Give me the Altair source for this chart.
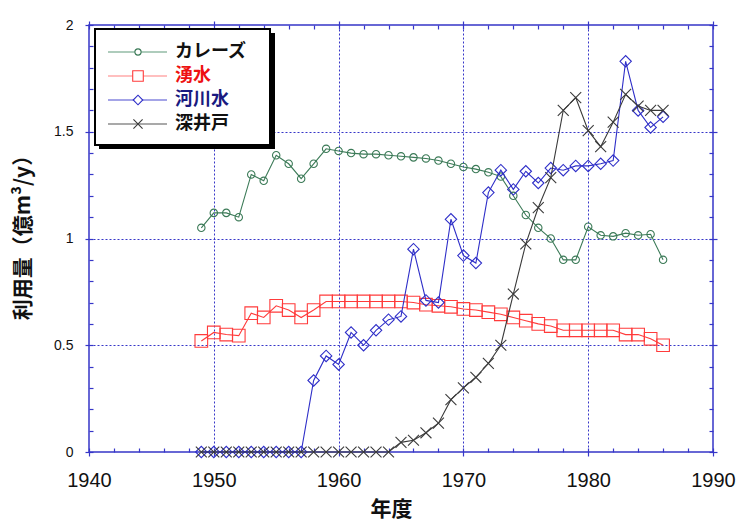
import altair as alt
import pandas as pd

# ---------------- data ----------------
years = list(range(1949, 1987))
karez = [1.05, 1.12, 1.12, 1.10, 1.30, 1.27, 1.39, 1.35, 1.28, 1.35,
         1.42, 1.41, 1.40, 1.395, 1.395, 1.39, 1.385, 1.38, 1.375, 1.365,
         1.35, 1.335, 1.325, 1.31, 1.29, 1.20, 1.11, 1.05, 1.00, 0.90,
         0.90, 1.055, 1.015, 1.01, 1.025, 1.015, 1.02, 0.90]
springs = [0.52, 0.56, 0.55, 0.545, 0.65, 0.63, 0.685, 0.665, 0.63, 0.665,
           0.705, 0.705, 0.705, 0.705, 0.705, 0.705, 0.705, 0.70, 0.69, 0.685,
           0.68, 0.67, 0.665, 0.655, 0.645, 0.63, 0.615, 0.60, 0.59, 0.57,
           0.57, 0.57, 0.57, 0.57, 0.55, 0.55, 0.53, 0.50]
river = [0, 0, 0, 0, 0, 0, 0, 0, 0, 0.335,
         0.45, 0.41, 0.56, 0.50, 0.57, 0.62, 0.635, 0.95, 0.71, 0.70,
         1.09, 0.92, 0.885, 1.215, 1.32, 1.23, 1.315, 1.26, 1.33, 1.32,
         1.34, 1.34, 1.35, 1.365, 1.83, 1.60, 1.52, 1.57]
wells = [0, 0, 0, 0, 0, 0, 0, 0, 0, 0,
         0, 0, 0, 0, 0, 0, 0.045, 0.055, 0.09, 0.135,
         0.245, 0.30, 0.35, 0.415, 0.50, 0.74, 0.975, 1.145, 1.285, 1.60,
         1.66, 1.505, 1.43, 1.545, 1.675, 1.62, 1.60, 1.60]

series_names = ["カレーズ", "湧水", "河川水", "深井戸"]
series_values = [karez, springs, river, wells]

x_major = [1940, 1950, 1960, 1970, 1980, 1990]
x_minor = [y for y in range(1942, 1990, 2) if y % 10 != 0]
y_major = [0, 0.5, 1, 1.5, 2]
y_minor = [round(i * 0.1, 1) for i in range(1, 20) if i % 5 != 0]
x_grid = [1950, 1960, 1970, 1980]
y_grid = [0.5, 1, 1.5]

rows = []
for name, vals in zip(series_names, series_values):
    for yr, v in zip(years, vals):
        rows.append({"year": yr, "value": v, "series": name})
df = pd.DataFrame(rows)

# ---------------- styles ----------------
W, H = 624, 427
AX = "#3636c8"
LATIN = "Liberation Sans"
CJK = "Noto Sans CJK JP"
XSHAPE = "M-1,-1L1,1M-1,1L1,-1"

styles = {
    "カレーズ": dict(color="#3b7a57", shape="circle", size=55, legend_line="#5f9a7a", text="#111111"),
    "湧水": dict(color="#ff3b3b", shape="square", size=160, legend_line="#ff8080", text="#ee1111"),
    "河川水": dict(color="#2e2ec8", shape="diamond", size=130, legend_line="#4a4ad0", text="#1a1a80"),
    "深井戸": dict(color="#3a3a3a", shape=XSHAPE, size=120, legend_line="#555555", text="#111111"),
}

xscale = alt.Scale(domain=[1940, 1990], nice=False, zero=False)
yscale = alt.Scale(domain=[0, 2], nice=False, zero=True)

def ax_common(**kw):
    base = dict(domain=False, grid=False, tickColor=AX, tickWidth=1.2, labels=False, title=None)
    base.update(kw)
    return alt.Axis(**base)

axes = {
    "A": (
        alt.Axis(orient="bottom", values=x_major, tickSize=8, offset=-4, domain=False, grid=False,
                 tickColor=AX, tickWidth=1.2, labelFontSize=20, labelFont=LATIN, labelColor="#111111",
                 labelPadding=14, format="d", labelFlush=False,
                 title="年度", titleFont=CJK, titleFontSize=21, titleFontWeight="bold",
                 titleColor="#111111", titleX=302, titleY=61, titleBaseline="middle",
                 titleAlign="center"),
        alt.Axis(orient="left", values=y_major, tickSize=8, offset=-4, domain=False, grid=False,
                 tickColor=AX, tickWidth=1.2, labelFontSize=14, labelFont=LATIN, labelColor="#111111",
                 labelPadding=12, labelFlush=False, format="~g",
                 title="利用量（億m³/y）", titleFont=CJK, titleFontSize=21, titleFontWeight="bold",
                 titleColor="#111111", titleX=-70, titleY=207, titleBaseline="middle",
                 titleAlign="center", titleAngle=270),
    ),
    "B": (ax_common(orient="bottom", values=x_minor, tickSize=4, offset=-4),
          ax_common(orient="left", values=y_minor, tickSize=4, offset=-4)),
    "C": (ax_common(orient="top", values=x_major, tickSize=8, offset=-4),
          ax_common(orient="right", values=y_major, tickSize=8, offset=-4)),
    "D": (ax_common(orient="top", values=x_minor, tickSize=4, offset=-4),
          ax_common(orient="right", values=y_minor, tickSize=4, offset=-4)),
    "E": (alt.Axis(orient="bottom", values=x_grid, grid=True, gridColor=AX, gridDash=[2, 2],
                   gridWidth=1, ticks=False, labels=False, domain=False, title=None, zindex=0),
          alt.Axis(orient="left", values=y_grid, grid=True, gridColor=AX, gridDash=[2, 2],
                   gridWidth=1, ticks=False, labels=False, domain=False, title=None, zindex=0)),
}

base = alt.Chart(df)
layers = []
axis_keys = iter(["E", "A", "B", "C", "D"])

order = ["湧水", "カレーズ", "河川水", "深井戸"]
for name in order:
    st = styles[name]
    k = next(axis_keys, None)
    xa, ya = axes[k] if k else (None, None)
    line = base.transform_filter(alt.datum.series == name).mark_line(
        color=st["color"], strokeWidth=1.1
    ).encode(
        x=alt.X("year:Q", scale=xscale, axis=xa),
        y=alt.Y("value:Q", scale=yscale, axis=ya),
    )
    k2 = next(axis_keys, None)
    xa2, ya2 = axes[k2] if k2 else (None, None)
    pts = base.transform_filter(alt.datum.series == name).mark_point(
        shape=st["shape"], filled=False, color=st["color"], size=st["size"], strokeWidth=1.1, opacity=1
    ).encode(
        x=alt.X("year:Q", scale=xscale, axis=xa2),
        y=alt.Y("value:Q", scale=yscale, axis=ya2),
    )
    layers += [line, pts]

# ---------------- legend (custom box, plot-area pixel offsets) ----------------
one = pd.DataFrame({"k": [0]})
shadow = alt.Chart(one).mark_rect(fill="black").encode(
    x=alt.value(10), x2=alt.value(186), y=alt.value(8), y2=alt.value(124))
box = alt.Chart(one).mark_rect(fill="white", stroke="black", strokeWidth=2).encode(
    x=alt.value(6), x2=alt.value(181), y=alt.value(4), y2=alt.value(120))
layers += [shadow, box]

for i, name in enumerate(series_names):
    st = styles[name]
    ypix = 27 + 24 * i
    d = pd.DataFrame({"label": [name]})
    layers.append(alt.Chart(d).mark_rule(color=st["legend_line"], strokeWidth=1.2).encode(
        x=alt.value(19), x2=alt.value(78), y=alt.value(ypix)))
    layers.append(alt.Chart(d).mark_point(
        shape=st["shape"], filled=False, color=st["color"], strokeWidth=1.1,
        size=st["size"] * 0.7, opacity=1, fill="white").encode(
        x=alt.value(49), y=alt.value(ypix)))
    layers.append(alt.Chart(d).mark_text(
        align="left", baseline="middle", font=CJK, fontSize=18, fontWeight="bold",
        color=st["text"]).encode(
        x=alt.value(86), y=alt.value(ypix), text="label:N"))

chart = alt.layer(*layers).resolve_axis(x="independent", y="independent").properties(
    width=W, height=H,
    autosize=alt.AutoSizeParams(type="none"),
    padding={"left": 89, "top": 25, "right": 30, "bottom": 73},
    background="white",
).configure_view(stroke=AX, strokeWidth=1.5)

chart.save("out.html", embed_options={"renderer": "svg", "actions": False})
